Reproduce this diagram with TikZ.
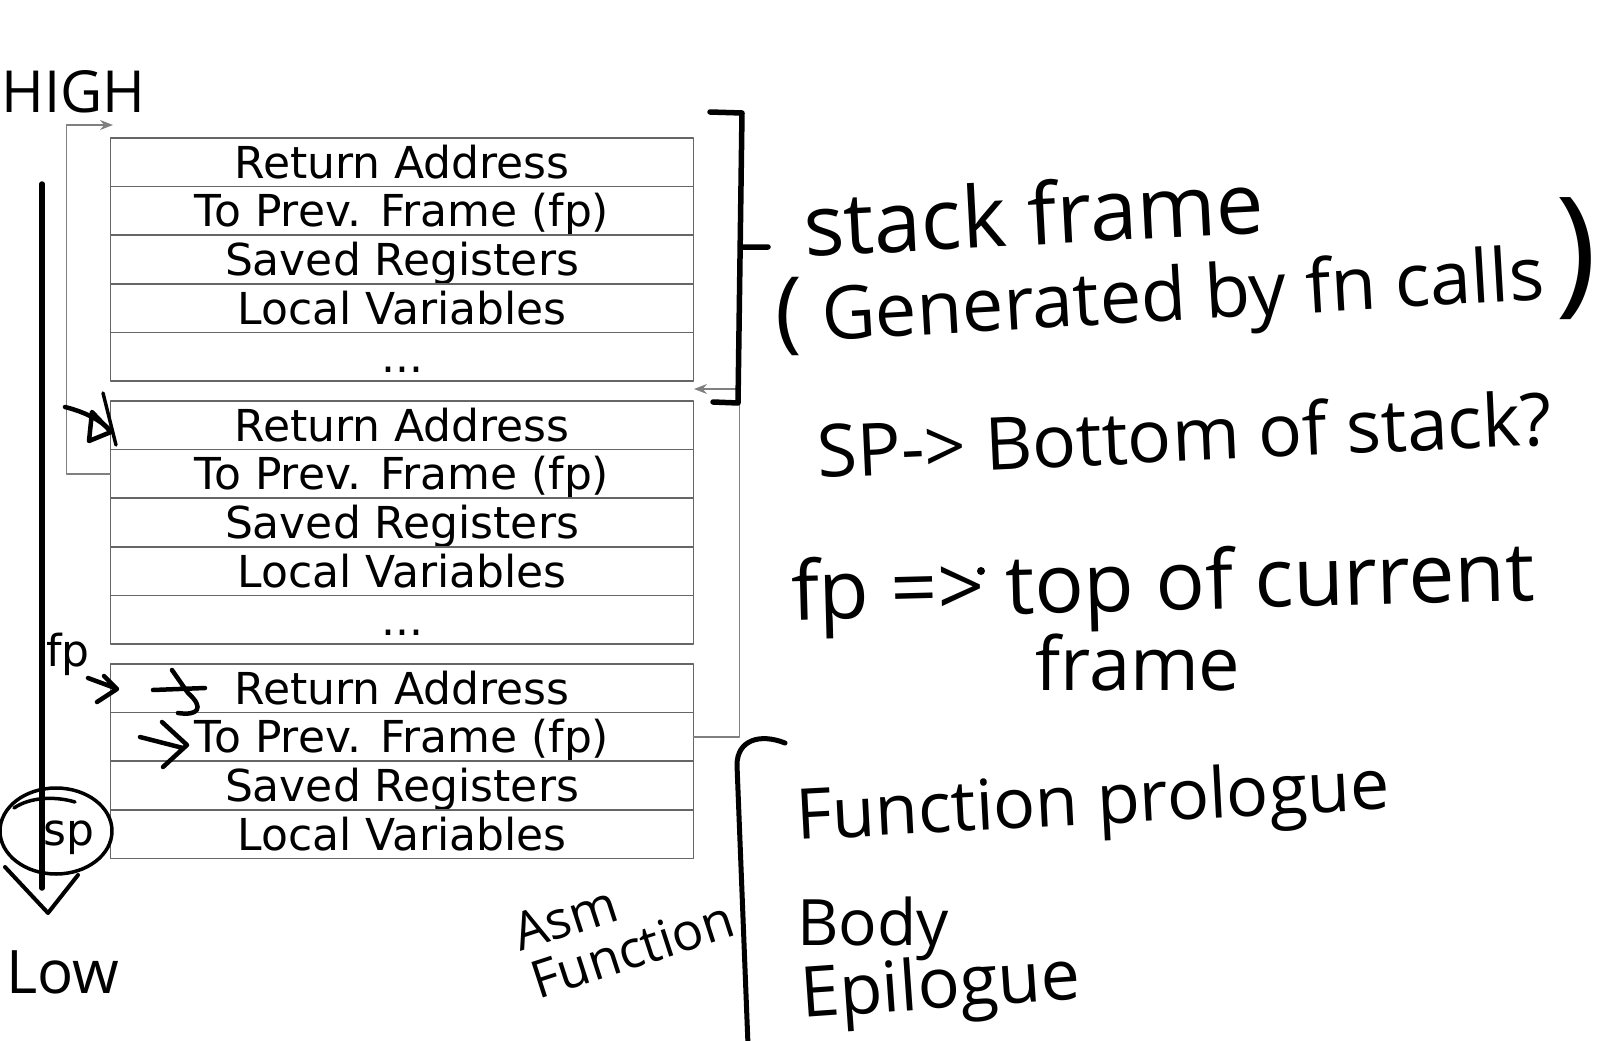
\documentclass[tikz,border=0pt]{standalone}
\usepackage{fontspec}
\setmainfont{DejaVu Sans}
\newfontfamily\handfont{Open Sans}
\usetikzlibrary{positioning,arrows.meta}

\begin{document}
\begin{tikzpicture}[x=1pt,y=-1pt,line join=round,line cap=round,
  >={Stealth[length=13pt,width=10pt]},node distance=0pt,
  cell/.style={draw=black!60,line width=1.6pt,minimum width=583pt,minimum height=48.6pt,
    inner sep=0pt,outer sep=0pt,text height=32pt,text depth=0pt,font=\fontsize{44}{50}\selectfont},
  wire/.style={draw=black!50,line width=1.5pt},
  ink/.style={line width=5.5pt},
  hand/.style={inner sep=0pt,anchor=base west,font=\handfont\fontsize{#1}{#1}\selectfont}]
\def\cx{402}
\useasboundingbox (0,0) rectangle (1623,1041);

% caller frame
\node[cell] (a1) at (\cx,162.3) {Return Address};
\node[cell,below=of a1] (a2) {To Prev. Frame (fp)};
\node[cell,below=of a2] (a3) {Saved Registers};
\node[cell,below=of a3] (a4) {Local Variables};
\node[cell,below=of a4] (a5) {...};
% middle frame
\node[cell] (b1) at (\cx,425.3) {Return Address};
\node[cell,below=of b1] (b2) {To Prev. Frame (fp)};
\node[cell,below=of b2] (b3) {Saved Registers};
\node[cell,below=of b3] (b4) {Local Variables};
\node[cell,below=of b4] (b5) {...};
% current frame
\node[cell] (c1) at (\cx,688.3) {Return Address};
\node[cell,below=of c1] (c2) {To Prev. Frame (fp)};
\node[cell,below=of c2] (c3) {Saved Registers};
\node[cell,below=of c3] (c4) {Local Variables};

% saved fp links
\coordinate (tohigh) at (113,125);
\coordinate (toa5) at (694,389);
\draw[wire,->] (b2.west) -- ++(-44,0) |- (tohigh);
\draw[wire,->] (c2.east) -- ++(46,0) |- (toa5);

% growth direction
\draw[ink] (42,184) -- (42,888);
\draw[line width=4pt] (5,867) -- (48,913) -- (78,875);
\node[hand=58] (high) at (1,113) {HIGH};
\node[hand=60] (low) at (6,993) {Low};

% registers
\node[anchor=base west,inner sep=0pt,font=\fontsize{44}{50}\selectfont] (fplab) at (46,666) {fp};
\node[anchor=base west,inner sep=0pt,font=\fontsize{44}{50}\selectfont] (splab) at (43,845) {sp};
\draw[line width=3.5pt] (56,831) ellipse [x radius=56,y radius=43];
\draw[line width=3.5pt] (14,808) .. controls (30,797) and (55,796) .. (75,802);

% pen marks
\draw[line width=3.5pt] (103,393) -- (116,445);
\draw[line width=4.5pt] (65,407) .. controls (85,412) and (100,420) .. (110,430);
\draw[line width=4.5pt] (92,412) -- (89,441) -- (111,432) -- cycle;
\draw[line width=4.5pt] (88,678) -- (115,688) (104,676) -- (117,689) -- (97,702);
\draw[line width=4.5pt] (172,670) -- (188,693) .. controls (205,708) and (198,716) .. (178,713)
  (153,690) -- (205,688);
\draw[line width=4.5pt] (140,737) -- (183,748) (162,722) -- (187,745) -- (163,767);

% brackets
\draw[ink] (710,112) -- (742,113) -- (738,403) -- (713,402) (742,247) -- (768,247);
\draw[line width=5pt] (785,743) .. controls (760,733) and (737,740) .. (737,765) -- (748,1045);

% notes
\node[hand=85,rotate=3] (sfr) at (805,257) {stack frame};
\node[hand=90] (lpar) at (775,341) {(};
\node[hand=74,rotate=3.3] (gen) at (823,341) {Generated by fn calls};
\node[hand=140] (rpar) at (1555,297) {)};
\node[hand=73,rotate=2.6] (spnote) at (818,478) {SP-> Bottom of stack?};
\node[hand=82,rotate=1.5] (fpnote) at (792,620) {fp => top of current};
\fill (981,571) circle (4);
\node[hand=74] (fpnote2) at (1035,690) {frame};
\node[hand=70,rotate=3] (pro) at (797,840) {Function prologue};
\node[hand=64] (body) at (797,945) {Body};
\node[hand=70,rotate=4] (epi) at (802,1018) {Epilogue};
\node[hand=52,rotate=18] (asm) at (520,952) {Asm};
\node[hand=52,rotate=18] (fnc) at (538,1000) {Function};
\end{tikzpicture}
\end{document}
